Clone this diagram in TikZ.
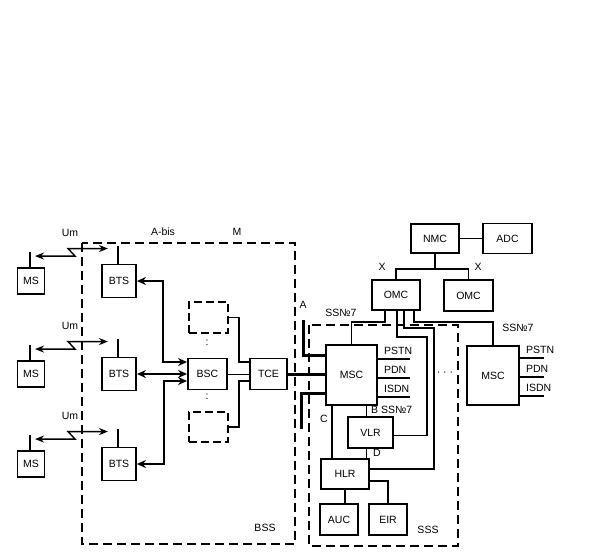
\documentclass[tikz,border=0pt]{standalone}
\usepackage{fontspec}
\setmainfont{Liberation Sans}
\usetikzlibrary{arrows.meta, calc}

\begin{document}
\begin{tikzpicture}[x=1pt,y=-1pt,
  font=\fontsize{10.5}{12}\selectfont,
  unit/.style={draw, line width=1.9pt, inner sep=0pt},
  ghost/.style={unit, dash pattern=on 8pt off 4pt},
  area/.style={line width=1.8pt, dash pattern=on 9pt off 5pt},
  link/.style={line width=1.6pt},
  thinlink/.style={line width=0.8pt},
  trunk/.style={line width=3pt},
  duplex/.style={link, {Stealth[length=9pt,width=8pt]}-{Stealth[length=9pt,width=8pt]}},
  umlink/.style={line width=1.4pt, {Stealth[length=9pt,width=7pt]}-{Stealth[length=9pt,width=7pt]}},
  tag/.style={inner sep=1pt}]
  \useasboundingbox (0,0) rectangle (589,559);

  % subsystem borders
  \draw[area] (82,243) rectangle (295,544);
  \draw[area] (309,325) rectangle (458,546);

  % mobile stations and base stations
  \foreach \i/\ym in {1/281, 2/374, 3/464}{
    \node[unit, minimum width=27pt, minimum height=26pt] (ms\i) at (31,\ym) {MS};
    \node[unit, minimum width=34pt, minimum height=33pt] (bts\i) at (119,\ym) {BTS};
    \draw[link] ($(ms\i.north)+(-1,0)$) -- ++(0,-15) coordinate (msant\i);
    \draw[link] ($(bts\i.north)+(-1,0)$) -- ++(0,-18) coordinate (btsant\i);
    \draw[umlink] ($(msant\i)+(5,4)$) -- ++(40,0) -- ++(-7,-7.5) -- ($(btsant\i)+(-10,3)$);
    \node[tag] (um\i) at (70,\ym-48) {Um};
  }

  \node[unit, minimum width=39pt, minimum height=31pt] (bsc) at (207.5,374) {BSC};
  \node[unit, minimum width=37pt, minimum height=31pt] (tce) at (268.5,374) {TCE};
  \node[ghost, minimum width=39pt, minimum height=31pt] (dum1) at (208.5,317.5) {};
  \node[ghost, minimum width=39pt, minimum height=30pt] (dum2) at (208.5,427) {};
  \node[tag] (vd1) at (207,343) {:};
  \node[tag] (vd2) at (207,397) {:};

  \draw[duplex] (bts1.east) -- ++(26,0) |- ($(bsc.west)+(0,-12)$);
  \draw[duplex] (bts2.east) -- (bsc.west);
  \draw[duplex] (bts3.east) -- ++(27,0) |- ($(bsc.west)+(0,7)$);
  \draw[thinlink] (bsc) -- (tce);
  \draw[link] (dum1.east) -- ++(10,0) |- ($(tce.west)+(0,-12)$);
  \draw[link] (dum2.east) -- ++(10,0) |- ($(tce.west)+(0,7)$);

  % switching subsystem
  \node[unit, minimum width=51pt, minimum height=60pt] (msc) at (351.5,375) {MSC};
  \node[unit, minimum width=52pt, minimum height=59pt] (msc2) at (493,375.5) {MSC};
  \node[unit, minimum width=48pt, minimum height=29pt] (nmc) at (435,238.5) {NMC};
  \node[unit, minimum width=49pt, minimum height=30pt] (adc) at (507.5,238.5) {ADC};
  \node[unit, minimum width=48pt, minimum height=30pt] (omc) at (396,295) {OMC};
  \node[unit, minimum width=49pt, minimum height=31pt] (omc2) at (468.5,295.5) {OMC};
  \node[unit, minimum width=45pt, minimum height=31pt] (vlr) at (370.5,432.5) {VLR};
  \node[unit, minimum width=48pt, minimum height=30pt] (hlr) at (345,474) {HLR};
  \node[unit, minimum width=38pt, minimum height=31pt] (auc) at (339,519.5) {AUC};
  \node[unit, minimum width=38pt, minimum height=31pt] (eir) at (388,519.5) {EIR};

  % A interface
  \coordinate (atop) at (303,320);
  \coordinate (abot) at (301,429);
  \draw[trunk] (atop) |- ($(msc.west)+(0,-20)$);
  \draw[trunk] (tce.east) -- (tce.east -| msc.west);
  \draw[trunk] (abot) |- ($(msc.west)+(0,18)$);

  % external networks
  \foreach \m/\dy/\len in {msc/15/32, msc2/13/24}{
    \foreach \lab [count=\k] in {PSTN,PDN,ISDN}{
      \draw[link] ($(\m.north east)+(0,\dy+19*\k-19)$) coordinate (\m p\k) -- ++(\len,0);
      \node[tag, anchor=base west] (\m t\k) at ($(\m p\k)+(5,-5)$) {\lab};
    }
  }

  % management network
  \draw[thinlink] (nmc) -- (adc);
  \draw[link] (nmc.south) -- ++(0,15) coordinate (nx);
  \draw[link] (omc.north) |- (nx) -| (omc2.north);
  \draw[link] ($(omc.south)+(-11,0)$) -- ++(0,11) -| (msc.north);
  \draw[link] ($(omc.south)+(1,0)$) -- ++(0,26) -- ++(30,0) |- ($(vlr.east)+(0,3)$);
  \draw[link] ($(omc.south)+(8,0)$) -- ++(0,17) -- ++(30,0) |- ($(hlr.east)+(0,-5)$);
  \draw[link] ($(omc.south)+(18,0)$) -- ++(0,11) -| (msc2.north);

  % registers
  \coordinate (bx) at ($(vlr.north)+(-4,0)$);
  \coordinate (cx) at ($(hlr.north)+(-13,0)$);
  \draw[link] (bx |- msc.south) -- (bx);
  \draw[link] (bx |- vlr.south) -- (bx |- hlr.north);
  \draw[link] (cx |- msc.south) -- (cx);
  \draw[link] (hlr.south) -- (hlr.south |- auc.north);
  \draw[link] ($(hlr.east)+(0,7)$) -| (eir.north);

  % labels
  \node[tag] (labis) at (163,232) {A-bis};
  \node[tag] (lm) at (237,232) {M};
  \node[tag] (lbss) at (265,528) {BSS};
  \node[tag] (lsss) at (428,530) {SSS};
  \node[tag] (la) at (303,305) {A};
  \node[tag] (lx1) at (382,267) {X};
  \node[tag] (lx2) at (478,267) {X};
  \node[tag] (lss1) at (341,313) {SS№7};
  \node[tag] (lss2) at (518,328) {SS№7};
  \node[tag, anchor=west] (lb) at (370,410) {B SS№7};
  \node[tag] (lc) at (324,419) {C};
  \node[tag] (ld) at (377,453) {D};
  \node[tag] (ldots) at (445,374) {\textperiodcentered\ \textperiodcentered\ \textperiodcentered};
\end{tikzpicture}
\end{document}
